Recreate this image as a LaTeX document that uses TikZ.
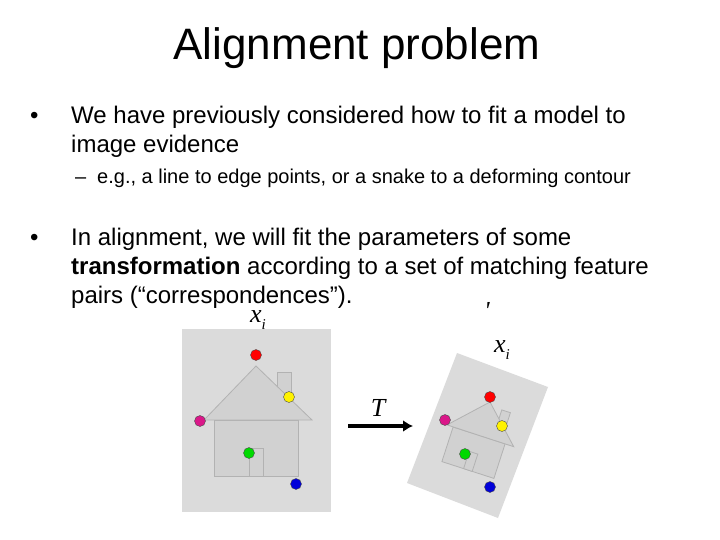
\documentclass[tikz,border=0pt]{standalone}
\usepackage{fontspec}
\setmainfont{Liberation Sans}
\newfontfamily\tms{Liberation Serif}
\usetikzlibrary{arrows.meta}
\begin{document}
\begin{tikzpicture}[x=1pt,y=-1pt,
  txt/.style={anchor=base west,inner sep=0pt,font=\fontsize{24}{28}\selectfont},
  sub/.style={anchor=base west,inner sep=0pt,font=\fontsize{20}{24}\selectfont},
  hs/.style={draw=black!30,fill=black!18,line width=0.8pt},
  lab/.style={inner sep=0pt,font=\tms\itshape\fontsize{26}{28}\selectfont},
  dot/.style={circle,draw=black!70,line width=0.4pt,minimum size=11pt,inner sep=0pt}]
\useasboundingbox (0,0) rectangle (720,540);
\node[anchor=base,inner sep=0pt,font=\fontsize{44}{48}\selectfont] (title) at (357,60) {Alignment problem};
\node[txt] (b1) at (30,124) {\textbullet};
\node[txt] (l1) at (71,124) {We have previously considered how to fit a model to};
\node[txt] (l2) at (71,153) {image evidence};
\node[sub] (d1) at (75,184) {--};
\node[sub] (s1) at (97,184) {e.g., a line to edge points, or a snake to a deforming contour};
\node[txt] (b2) at (30,245) {\textbullet};
\node[txt] (l3) at (71,245) {In alignment, we will fit the parameters of some};
\node[txt] (l4) at (71,274) {\textbf{transformation} according to a set of matching feature};
\node[txt] (l5) at (71,303) {pairs (“correspondences”).};
% left image
\fill[black!14] (182,329) rectangle (331,512);
\draw[hs] (277,372) rectangle (291,400);
\draw[hs] (214,420) rectangle (298,476);
\draw[hs] (249,448) rectangle (263,476);
\draw[hs] (256,366) -- (204,420) -- (312,420) -- cycle;
\node[dot,fill=red] (r1) at (256,355) {};
\node[dot,fill=yellow] (y1) at (289,397) {};
\node[dot,fill=magenta!80!violet] (m1) at (200,421) {};
\node[dot,fill=green!85!black] (g1) at (249,453) {};
\node[dot,fill=blue!85!black] (bl1) at (296,484) {};
% right image
\fill[black!14] (457,353) -- (548,387) -- (498,518) -- (407,483) -- cycle;
\draw[hs] (501.8,409.9) -- (510.4,412.7) -- (504.8,430) -- (496.2,427.2) -- cycle;
\draw[hs] (453.1,427.0) -- (505.1,443.8) -- (493.9,478.4) -- (441.9,461.6) -- cycle;
\draw[hs] (469.2,451.3) -- (477.8,454.1) -- (472.2,471.4) -- (463.6,468.6) -- cycle;
\draw[hs] (490,402) -- (447,424.9) -- (513.7,446.7) -- cycle;
\node[dot,fill=red] (r2) at (490,397) {};
\node[dot,fill=yellow] (y2) at (502,426) {};
\node[dot,fill=magenta!80!violet] (m2) at (445,420) {};
\node[dot,fill=green!85!black] (g2) at (465,454) {};
\node[dot,fill=blue!85!black] (bl2) at (490,487) {};
% labels and arrow
\node[lab] (xl) at (258,320) {x\raisebox{-0.25em}{\fontsize{15}{16}\selectfont i}};
\node[lab] (xr) at (502,350) {x\raisebox{-0.25em}{\fontsize{15}{16}\selectfont i}};
\node[lab] (pr) at (487,311) {\textquotesingle};
\node[lab] (T) at (378,408) {T};
\coordinate (a1) at (348,426);
\coordinate (a2) at (413,426);
\draw[line width=4.5pt,-{Latex[length=10pt,width=12pt]}] (a1) -- (a2);
\end{tikzpicture}
\end{document}
